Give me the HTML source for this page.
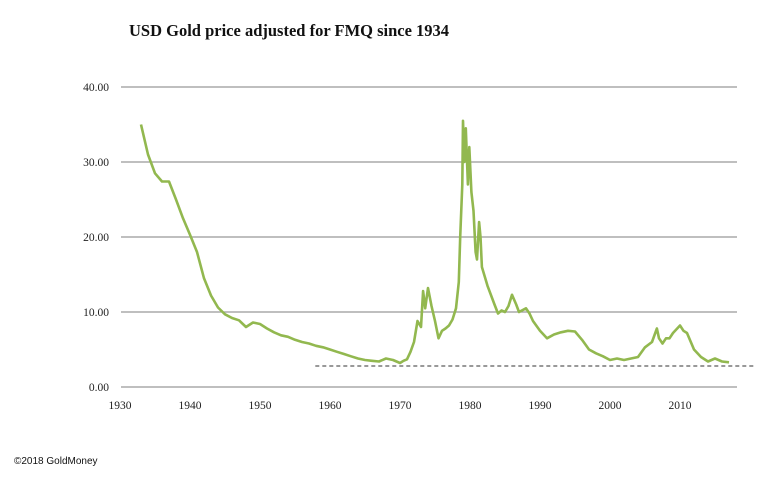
<!DOCTYPE html>
<html><head><meta charset="utf-8"><style>
body{margin:0;background:#fff;width:765px;height:499px;overflow:hidden}
svg{display:block}
</style></head><body>
<svg width="765" height="499">
<text x="129" y="36" font-family="Liberation Serif,serif" font-weight="bold" font-size="16.5" fill="#111">USD Gold price adjusted for FMQ since 1934</text>
<g id="grid"></g><g id="yt"></g><g id="xt"></g>
<path id="line" fill="none" stroke="#92b84f" stroke-width="2.6" stroke-linejoin="round"/>
<line id="dash" stroke="#333" stroke-width="1" stroke-dasharray="4,3"/>
<text x="14" y="464" font-family="Liberation Sans,sans-serif" font-size="10" fill="#111">©2018 GoldMoney</text>
</svg>
<script>
const years=[1933,1934,1935,1936,1937,1938,1939,1940,1941,1942,1943,1944,1945,1946,1947,1948,1949,1950,1951,1952,1953,1954,1955,1956,1957,1958,1959,1960,1961,1962,1963,1964,1965,1966,1967,1968,1969,1970,1970.5,1971,1971.5,1972,1972.5,1973,1973.3,1973.6,1974,1974.5,1975,1975.5,1976,1976.5,1977,1977.5,1978,1978.4,1978.6,1978.9,1979,1979.2,1979.4,1979.7,1979.9,1980.2,1980.5,1980.8,1981,1981.3,1981.5,1981.7,1982.5,1983.5,1984,1984.5,1985,1985.5,1986,1986.6,1987,1988,1988.5,1989,1990,1991,1992,1993,1994,1995,1996,1997,1998,1999,2000,2001,2002,2003,2004,2005,2006,2006.7,2007,2007.5,2008,2008.5,2009,2010,2010.5,2011,2012,2013,2014,2015,2016,2017,2018];
const values=[35,31,28.5,27.4,27.4,25,22.5,20.3,18,14.5,12.2,10.6,9.7,9.2,8.9,8.0,8.6,8.4,7.8,7.3,6.9,6.7,6.3,6.0,5.8,5.5,5.3,5.0,4.7,4.4,4.1,3.8,3.6,3.5,3.4,3.8,3.6,3.2,3.5,3.7,4.7,6,8.8,8,12.8,10.5,13.2,10.8,8.8,6.5,7.5,7.8,8.2,9,10.5,14,20,27,35.5,30,34.5,27,32,26,23.5,18,17,22,20,16,13.5,11,9.8,10.2,10,10.8,12.3,11,10,10.5,9.8,8.8,7.5,6.5,7,7.3,7.5,7.4,6.3,5,4.5,4.1,3.6,3.8,3.6,3.8,4.0,5.3,6,7.8,6.5,5.8,6.5,6.5,7.2,8.2,7.5,7.2,5,4,3.4,3.8,3.4,3.3];
const yTicks=[0,10,20,30,40];
const xTicks=[1930,1940,1950,1960,1970,1980,1990,2000,2010];
const refValue=2.8, refStart=1957.9, refEnd=2020.7;
const NS='http://www.w3.org/2000/svg';
const X=y=>120+7*(y-1930), Y=v=>387-7.5*v;
const g=document.getElementById('grid'),yt=document.getElementById('yt'),xt=document.getElementById('xt');
yTicks.forEach(v=>{
 const l=document.createElementNS(NS,'line');
 l.setAttribute('x1',121);l.setAttribute('x2',737);l.setAttribute('y1',Y(v));l.setAttribute('y2',Y(v));
 l.setAttribute('stroke','#999');l.setAttribute('stroke-width','1.2');
 
 
 g.appendChild(l);
 const t=document.createElementNS(NS,'text');
 t.setAttribute('x',109);t.setAttribute('y',Y(v)+4);t.setAttribute('text-anchor','end');
 t.setAttribute('font-family','Liberation Serif,serif');t.setAttribute('font-size','11.5');t.setAttribute('fill','#222');
 t.textContent=v.toFixed(2);
 
 
 yt.appendChild(t);
});
xTicks.forEach(y=>{
 const t=document.createElementNS(NS,'text');
 t.setAttribute('x',X(y));t.setAttribute('y',409);t.setAttribute('text-anchor','middle');
 t.setAttribute('font-family','Liberation Serif,serif');t.setAttribute('font-size','11.5');t.setAttribute('fill','#222');
 t.textContent=y;
 
 
 xt.appendChild(t);
});
document.getElementById('line').setAttribute('d',years.map((y,i)=>(i?'L':'M')+X(y).toFixed(1)+','+Y(values[i]).toFixed(1)).join(''));
const d=document.getElementById('dash');
d.setAttribute('x1',X(refStart));d.setAttribute('x2',X(refEnd));d.setAttribute('y1',Y(refValue));d.setAttribute('y2',Y(refValue));
</script>
</body></html>
